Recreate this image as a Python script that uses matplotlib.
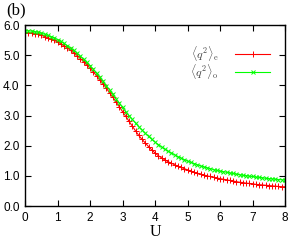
import numpy as np
import matplotlib
matplotlib.use("Agg")
import matplotlib.pyplot as plt

# U grid and the two curves (step 0.1)
U = np.round(np.arange(0, 81) * 0.1, 1)

q2_even = [5.75, 5.75, 5.74, 5.72, 5.69, 5.66, 5.62, 5.58, 5.53, 5.49,
           5.44, 5.38, 5.31, 5.24, 5.16, 5.08, 4.99, 4.89, 4.79, 4.68,
           4.57, 4.45, 4.32, 4.19, 4.05, 3.91, 3.76, 3.61, 3.45, 3.29,
           3.13, 2.97, 2.81, 2.65, 2.49, 2.34, 2.21, 2.09, 1.97, 1.86,
           1.76, 1.67, 1.60, 1.53, 1.47, 1.42, 1.37, 1.32, 1.28, 1.24,
           1.20, 1.16, 1.12, 1.09, 1.06, 1.03, 1.00, 0.98, 0.95, 0.93,
           0.91, 0.89, 0.87, 0.85, 0.83, 0.81, 0.79, 0.78, 0.76, 0.75,
           0.74, 0.72, 0.71, 0.70, 0.69, 0.68, 0.67, 0.66, 0.65, 0.64,
           0.64]

q2_odd = [5.81, 5.81, 5.80, 5.78, 5.76, 5.73, 5.70, 5.66, 5.62, 5.57,
          5.52, 5.46, 5.39, 5.32, 5.24, 5.16, 5.07, 4.97, 4.87, 4.76,
          4.65, 4.53, 4.40, 4.27, 4.13, 3.99, 3.85, 3.70, 3.55, 3.41,
          3.27, 3.13, 3.00, 2.87, 2.75, 2.63, 2.52, 2.41, 2.31, 2.21,
          2.12, 2.04, 1.96, 1.89, 1.82, 1.76, 1.70, 1.64, 1.59, 1.54,
          1.49, 1.45, 1.41, 1.37, 1.33, 1.30, 1.27, 1.24, 1.21, 1.18,
          1.16, 1.14, 1.12, 1.10, 1.08, 1.06, 1.04, 1.02, 1.01, 0.99,
          0.98, 0.96, 0.95, 0.94, 0.92, 0.91, 0.90, 0.89, 0.88, 0.87,
          0.86]

xticks = [0, 1, 2, 3, 4, 5, 6, 7, 8]
yticks = [0.0, 1.0, 2.0, 3.0, 4.0, 5.0, 6.0]

plt.rcParams['font.family'] = 'Liberation Sans'
plt.rcParams['mathtext.fontset'] = 'cm'

fig = plt.figure(figsize=(2.92, 2.41), dpi=100)
ax = fig.add_axes([0.086, 0.145, 0.89, 0.751])

ax.plot(U, q2_even, color='#ff0000', lw=0.8, marker='+', ms=4, mew=0.7,
        label=r'$\langle q^2\rangle_{\rm e}$')
ax.plot(U, q2_odd, color='#00ff00', lw=0.8, marker='x', ms=3.5, mew=0.7,
        label=r'$\langle q^2\rangle_{\rm o}$')

ax.set_xlim(0, 8)
ax.set_ylim(0, 6)
ax.set_xticks(xticks)
ax.set_yticks(yticks)
ax.set_yticklabels([f'{v:.1f}' for v in yticks])
ax.tick_params(direction='in', top=True, right=True, length=4, width=0.8,
               labelsize=8.5, pad=4)
for s in ax.spines.values():
    s.set_linewidth(1.0)

ax.set_xlabel('U', family='Liberation Serif', fontsize=11.5, labelpad=0)

leg = ax.legend(loc='upper right', bbox_to_anchor=(0.985, 0.955), frameon=False,
                markerfirst=False, fontsize=8.5, handlelength=3.0,
                labelspacing=-0.1, handletextpad=1.4, markerscale=1.0)
for t in leg.get_texts():
    t.set_color('#444444')

fig.text(0.02, 0.955, '(b)', family='Liberation Serif', fontsize=12,
         va='center', ha='left')

fig.savefig('out.png', dpi=100)
